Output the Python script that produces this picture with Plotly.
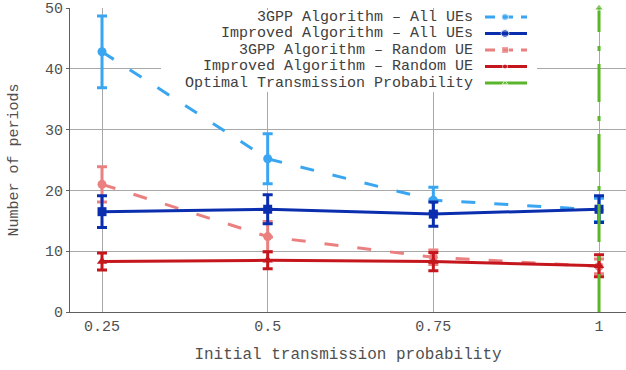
import plotly.graph_objects as go

# Initial transmission probabilities (x) and measured number of periods
probs = [0.25, 0.5, 0.75, 1.0]
tick_labels = ["0.25", "0.5", "0.75", "1"]

gpp_all = [42.8, 25.2, 18.4, 16.8]
gpp_all_err = [5.9, 4.1, 2.1, 1.9]

impr_all = [16.5, 16.9, 16.1, 16.9]
impr_all_err = [2.6, 2.4, 2.0, 2.2]

gpp_rand = [21.0, 12.4, 9.0, 7.5]
gpp_rand_err = [2.9, 2.5, 1.2, 1.2]

impr_rand = [8.3, 8.5, 8.3, 7.6]
impr_rand_err = [1.4, 1.4, 1.5, 1.8]

optimal_x = [1.0, 1.0]
optimal_y = [0, 50]

series_names = [
    "3GPP Algorithm \u2013 All UEs",
    "Improved Algorithm \u2013 All UEs",
    "3GPP Algorithm \u2013 Random UE",
    "Improved Algorithm \u2013 Random UE",
    "Optimal Transmission Probability",
]

C_LBLUE = "#3aa6f2"
C_DBLUE = "#0a2eae"
C_SALMON = "#ea8080"
C_DRED = "#c4161c"
C_GREEN = "#5ab52a"
FONT = "Liberation Mono, Courier New, monospace"
DASH = "14px,19px"

X_RANGE = [0.2017, 1.0407]
Y_RANGE = [0, 50]
PLOT_L, PLOT_R, PLOT_T, PLOT_B = 70, 626, 8, 312


def px_x(px):
    """Page pixel column -> x data value."""
    return X_RANGE[0] + (px - PLOT_L) / (PLOT_R - PLOT_L) * (X_RANGE[1] - X_RANGE[0])


def px_y(py):
    """Page pixel row -> y data value."""
    return Y_RANGE[1] - (py - PLOT_T) / (PLOT_B - PLOT_T) * (Y_RANGE[1] - Y_RANGE[0])


fig = go.Figure()


def series(y, err, color, dash, symbol, name):
    fig.add_trace(go.Scatter(
        x=probs, y=y, name=name, mode="lines+markers",
        line=dict(color=color, width=3, dash=dash),
        marker=dict(color=color, size=9, symbol=symbol),
        error_y=dict(type="data", array=err, visible=True,
                     color=color, thickness=3, width=5),
        showlegend=False,
    ))


series(gpp_all, gpp_all_err, C_LBLUE, DASH, "circle", series_names[0])
series(gpp_rand, gpp_rand_err, C_SALMON, DASH, "circle", series_names[2])
series(impr_all, impr_all_err, C_DBLUE, "solid", "square", series_names[1])
series(impr_rand, impr_rand_err, C_DRED, "solid", "triangle-up", series_names[3])

fig.add_trace(go.Scatter(
    x=optimal_x, y=optimal_y, name=series_names[4], mode="lines+markers",
    line=dict(color=C_GREEN, width=3, dash="38px,13px,5px,14px"),
    marker=dict(color=C_GREEN, size=[0, 8], symbol="triangle-up"),
    cliponaxis=False, showlegend=False,
))

# Custom legend: right-aligned labels with the sample on the right,
# laid out on an overlay axis measured in page pixels.
legend_rows = [17, 33.5, 50, 66.5, 83]
legend_styles = [
    (C_LBLUE, "10px,8px", "circle", 7),
    (C_DBLUE, "solid", "circle", 8),
    (C_SALMON, "10px,8px", "square", 7),
    (C_DRED, "solid", "circle", 5),
    (C_GREEN, "solid", "triangle-up", 5),
]
for name, ry, (col, dsh, sym, msz) in zip(series_names, legend_rows, legend_styles):
    fig.add_trace(go.Scatter(
        x=[485, 505, 527], y=[ry, ry, ry], mode="lines+markers",
        line=dict(color=col, width=3, dash=dsh),
        marker=dict(color=col, size=[0, msz, 0], symbol=sym),
        xaxis="x2", yaxis="y2", showlegend=False, hoverinfo="skip",
    ))
    fig.add_annotation(
        x=475, y=ry, xref="x2", yref="y2", text=name, showarrow=False,
        xanchor="right", yanchor="middle",
        font=dict(family=FONT, size=15, color="#404040"),
    )

# White legend background: above the grid, beneath the data
fig.add_shape(
    type="rect", xref="x", yref="y",
    x0=px_x(161), x1=px_x(537), y0=px_y(92), y1=px_y(10),
    fillcolor="white", line=dict(width=0), layer="between",
)

fig.update_layout(
    width=626, height=370,
    margin=dict(l=PLOT_L, r=0, t=PLOT_T, b=370 - PLOT_B),
    paper_bgcolor="white", plot_bgcolor="white",
    font=dict(family=FONT, size=15, color="#505050"),
    xaxis=dict(
        range=X_RANGE, tickvals=probs, ticktext=tick_labels,
        showgrid=True, gridcolor="#a8a8a8", gridwidth=1,
        showline=True, linecolor="#606060", linewidth=1, zeroline=False,
        ticks="", tickfont=dict(size=15, color="#505050"),
        title=dict(text="Initial transmission probability",
                   font=dict(size=16, color="#505050"), standoff=12),
    ),
    yaxis=dict(
        range=Y_RANGE, tickvals=[0, 10, 20, 30, 40, 50],
        showgrid=True, gridcolor="#a8a8a8", gridwidth=1,
        showline=True, linecolor="#606060", linewidth=1, zeroline=False,
        ticks="outside", ticklen=3, tickcolor="#606060",
        tickfont=dict(size=15, color="#505050"),
        title=dict(text="Number of periods",
                   font=dict(size=15, color="#505050"), standoff=22),
    ),
    xaxis2=dict(range=[PLOT_L, PLOT_R], overlaying="x", visible=False, fixedrange=True),
    yaxis2=dict(range=[PLOT_B, PLOT_T], overlaying="y", visible=False, fixedrange=True),
)

fig.write_html("out.html")
